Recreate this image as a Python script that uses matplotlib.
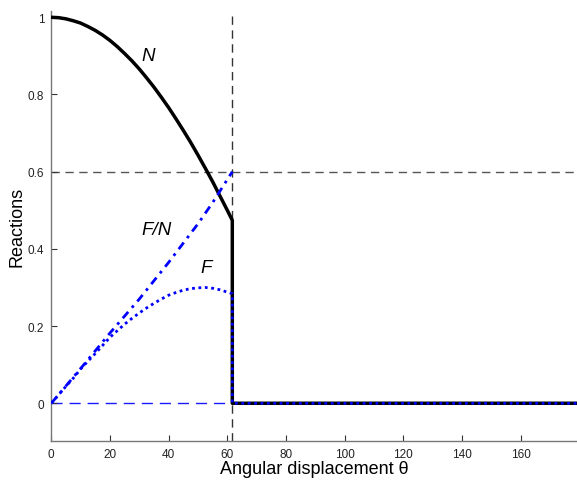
import matplotlib
matplotlib.use("Agg")
import matplotlib.pyplot as plt

plt.rcParams['font.family'] = ['Liberation Sans', 'DejaVu Sans']

# Data
theta_slip = 61.7
theta_N = [0, 2.5, 5, 7.5, 10, 12.5, 15, 17.5, 20, 22.5, 25, 27.5, 30, 32.5,
           35, 37.5, 40, 42.5, 45, 47.5, 50, 52.5, 55, 57.5, 60, 61.7, 61.7, 180]
N_vals = [1.0, 0.999, 0.996, 0.991, 0.985, 0.976, 0.966, 0.954, 0.94, 0.924,
          0.906, 0.887, 0.866, 0.843, 0.819, 0.793, 0.766, 0.737, 0.707, 0.676,
          0.643, 0.609, 0.574, 0.537, 0.5, 0.474, 0.0, 0.0]

theta_FN = [0, 10, 20, 30, 40, 50, 55, 61.7]
FN_vals = [0.0, 0.09, 0.182, 0.27, 0.365, 0.465, 0.52, 0.6]

theta_F = [0, 2.5, 5, 7.5, 10, 12.5, 15, 17.5, 20, 22.5, 25, 27.5, 30, 32.5,
           35, 37.5, 40, 42.5, 45, 47.5, 50, 52.5, 55, 57.5, 60, 61.7, 61.7, 180]
F_vals = [0.0, 0.022, 0.044, 0.065, 0.089, 0.109, 0.129, 0.15, 0.171, 0.188,
          0.205, 0.22, 0.234, 0.247, 0.259, 0.27, 0.28, 0.287, 0.293, 0.297,
          0.299, 0.3, 0.298, 0.294, 0.288, 0.284, 0.0, 0.0]

mu_limit = 0.6

xticks = [0, 20, 40, 60, 80, 100, 120, 140, 160]
yticks = [0, 0.2, 0.4, 0.6, 0.8, 1.0]
yticklabels = ['0', '0.2', '0.4', '0.6', '0.8', '1']

fig = plt.figure(figsize=(5.77, 4.89), dpi=100)
ax = fig.add_axes([0.0889, 0.0967, 1 - 0.0889, 0.976 - 0.0967])

# reference lines
ax.axhline(mu_limit, color='#555555', lw=1.0, ls=(0, (6, 4)), zorder=1)
ax.axvline(theta_slip, color='#333333', lw=1.0, ls=(0, (6, 4)), zorder=1)
ax.plot([0, theta_slip], [0, 0], color='#1a1aff', lw=1.0, ls=(0, (8, 5)), zorder=1)

ax.plot(theta_N, N_vals, color='black', lw=2.5, zorder=3)
ax.plot(theta_FN, FN_vals, color='blue', lw=2.0, ls=(0, (3, 2, 1, 2)), zorder=4)
ax.plot(theta_F, F_vals, color='blue', lw=2.0, ls=(0, (1, 1.3)), zorder=5)

ax.text(32.9, 0.90, 'N', style='italic', fontsize=13.5, ha='center', va='center')
ax.text(35.9, 0.451, 'F/N', style='italic', fontsize=13.5, ha='center', va='center')
ax.text(52.7, 0.352, 'F', style='italic', fontsize=13.5, ha='center', va='center')

ax.set_xlim(0, 179.2)
ax.set_ylim(-0.097, 1.017)
ax.set_xticks(xticks)
ax.set_yticks(yticks)
ax.set_yticklabels(yticklabels)

for s in ['top', 'right']:
    ax.spines[s].set_visible(False)
for s in ['left', 'bottom']:
    ax.spines[s].set_color('#777777')
    ax.spines[s].set_linewidth(1.0)

ax.tick_params(direction='in', length=4, width=0.8, color='#333333',
               labelsize=8.5, labelcolor='#222222', pad=5)

ax.set_xlabel('Angular displacement θ', fontsize=13, labelpad=0)
ax.set_ylabel('Reactions', fontsize=13, labelpad=2)

fig.savefig('out.png', dpi=100)
